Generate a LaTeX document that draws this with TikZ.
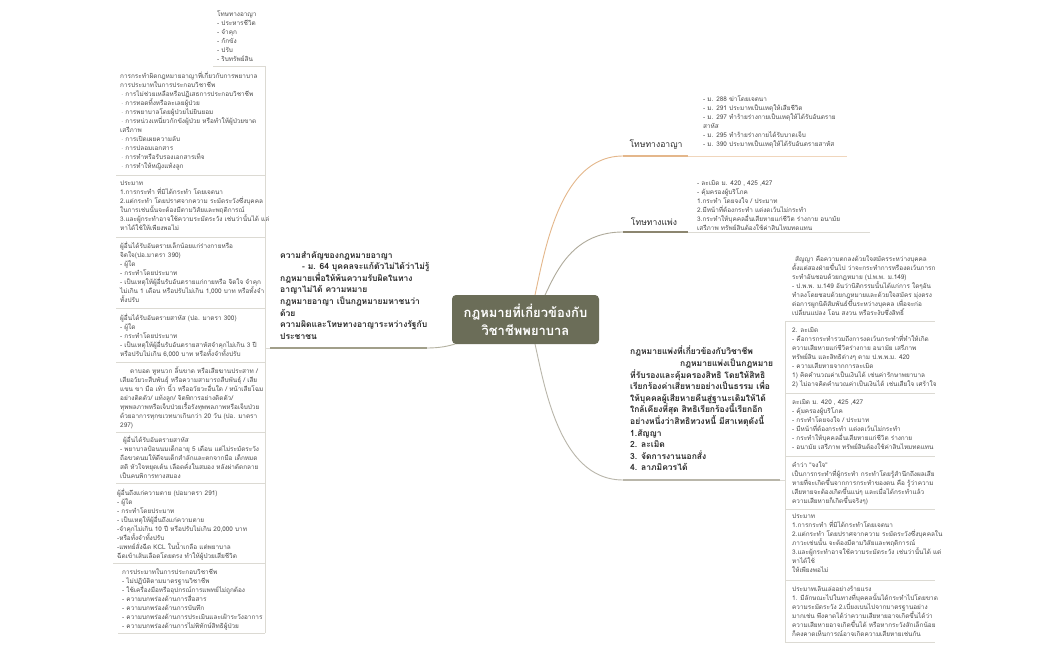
\documentclass[tikz,border=0pt]{standalone}
\usepackage{fontspec}
\usepackage{tikz}
\usetikzlibrary{backgrounds}
\newfontfamily\thaifont[Script=Thai]{Loma}

\definecolor{rootfill}{HTML}{6B6D58}
\definecolor{olivebr}{HTML}{A19F8A}
\definecolor{tanbr}{HTML}{E4B78B}
\definecolor{tanlight}{HTML}{F0D6BC}
\definecolor{civbr}{HTML}{8C8670}
\definecolor{greybr}{HTML}{B9B6AA}
\definecolor{linegrey}{HTML}{DCDAD3}
\definecolor{leaftext}{HTML}{4A4A4A}
\definecolor{topictext}{HTML}{2C2C2C}

\newcommand{\leaffnt}{\thaifont\fontsize{6.4}{9}\selectfont\lineskiplimit=-20pt}
\newcommand{\topicfnt}{\thaifont\bfseries\fontsize{8.5}{11.6}\selectfont\lineskiplimit=-20pt}
\newcommand{\brfnt}{\thaifont\fontsize{8.6}{11}\selectfont}
\newcommand{\rootfnt}{\thaifont\bfseries\fontsize{13}{18}\selectfont\lineskiplimit=-20pt}
\newcommand{\bul}{\hspace{1pt}$\cdot$\hspace{2pt}}

\begin{document}
\begin{tikzpicture}[x=1pt, y=-1pt,
  leaf/.style={font=\leaffnt, text=leaftext, inner sep=0pt, align=left, anchor=north west},
  topic/.style={font=\topicfnt, text=topictext, inner sep=0pt, align=left, anchor=north west},
  brlabel/.style={font=\brfnt, text=topictext, inner sep=0pt},
  rootbox/.style={fill=rootfill, rounded corners=4pt, minimum width=147pt, minimum height=49pt,
    font=\rootfnt, text=white, align=center, inner sep=0pt},
  underl/.style={line width=2.6pt},
  leafline/.style={line width=0.8pt, draw=linegrey},
  conn/.style={line width=0.9pt}]

\begin{scope}[on background layer]
\fill[white] (0,0) rectangle (1050,650);
\end{scope}
\useasboundingbox (0,0) rectangle (1050,650);

% root
\node[rootbox] (root) at (525.5,319.5) {กฎหมายที่เกี่ยวข้องกับ\\วิชาชีพพยาบาล};

% left main topic
\node[topic] (crim) at (280,251) {ความสำคัญของกฎหมายอาญา\\
\hspace{22pt}- ม. 64 บุคคลจะแก้ตัวไม่ได้ว่าไม่รู้\\
กฎหมายเพื่อให้พ้นความรับผิดในทาง\\
อาญาไม่ได้ ความหมาย\\
กฎหมายอาญา เป็นกฎหมายมหาชนว่า\\
ด้วย\\
ความผิดและโทษทางอาญาระหว่างรัฐกับ\\
ประชาชน};
\coordinate (crimL) at (270,348);
\coordinate (crimR) at (427,348);
\draw[underl, draw=olivebr] (crimL) -- (crimR);

% left leaves
\node[leaf] (l1) at (217,11) {โทษทางอาญา\\- ประหารชีวิต\\- จำคุก\\- กักขัง\\- ปรับ\\- ริบทรัพย์สิน};
\node[leaf] (l2) at (120,72) {การกระทำผิดกฎหมายอาญาที่เกี่ยวกับการพยาบาล\\
การประมาทในการประกอบวิชาชีพ\\
\bul การไม่ช่วยเหลือหรือปฏิเสธการประกอบวิชาชีพ\\
\bul การทอดทิ้งหรือละเลยผู้ป่วย\\
\bul การพยาบาลโดยผู้ป่วยไม่ยินยอม\\
\bul การหน่วงเหนี่ยวกักขังผู้ป่วย หรือทำให้ผู้ป่วยขาด\\
เสรีภาพ\\
\bul การเปิดเผยความลับ\\
\bul การปลอมเอกสาร\\
\bul การทำหรือรับรองเอกสารเท็จ\\
\bul การทำให้หญิงแท้งลูก};
\node[leaf] (l3) at (120,181) {ประมาท\\
1.การกระทำ ที่มิได้กระทำ โดยเจตนา\\
2.แต่กระทำ โดยปราศจากความ ระมัดระวังซึ่งบุคคล\\
ในการเช่นนั้นจะต้องมีตามวิสัยและพฤติการณ์\\
3.และผู้กระทำอาจใช้ความระมัดระวัง เช่นว่านั้นได้ แต่\\
หาได้ใช้ให้เพียงพอไม่};
\node[leaf] (l4) at (120,242) {ผู้อื่นได้รับอันตรายเล็กน้อยแก่ร่างกายหรือ\\
จิตใจ(ปอ.มาตรา 390)\\
- ผู้ใด\\
- กระทำโดยประมาท\\
- เป็นเหตุให้ผู้อื่นรับอันตรายแก่กายหรือ จิตใจ จำคุก\\
ไม่เกิน 1 เดือน หรือปรับไม่เกิน 1,000 บาท หรือทั้งจำ\\
ทั้งปรับ};
\node[leaf] (l5) at (120,314) {ผู้อื่นได้รับอันตรายสาหัส (ปอ. มาตรา 300)\\
- ผู้ใด\\
- กระทำโดยประมาท\\
- เป็นเหตุให้ผู้อื่นรับอันตรายสาหัสจำคุกไม่เกิน 3 ปี\\
หรือปรับไม่เกิน 6,000 บาท หรือทั้งจำทั้งปรับ};
\node[leaf] (l6) at (120,367) {\hspace{10pt}ตาบอด หูหนวก ลิ้นขาด หรือเสียฆานประสาท /\\
เสียอวัยวะสืบพันธุ์ หรือความสามารถสืบพันธุ์ / เสีย\\
แขน ขา มือ เท้า นิ้ว หรืออวัยวะอื่นใด / หน้าเสียโฉม\\
อย่างติดตัว/ แท้งลูก/ จิตพิการอย่างติดตัว/\\
ทุพพลภาพหรือเจ็บป่วยเรื้อรังทุพพลภาพหรือเจ็บป่วย\\
ด้วยอาการทุกขเวทนาเกินกว่า 20 วัน (ปอ. มาตรา\\
297)};
\node[leaf] (l7) at (120,436) {\hspace{3pt}ผู้อื่นได้รับอันตรายสาหัส\\
- พยาบาลป้อนนมเด็กอายุ 5 เดือน แต่ไม่ระมัดระวัง\\
ถือขวดนมให้ดีจนเด็กสำลักและตกจากมือ เด็กหมด\\
สติ หัวใจหยุดเต้น เลือดคั่งในสมอง หลังผ่าตัดกลาย\\
เป็นคนพิการทางสมอง};
\node[leaf] (l8) at (117,489) {ผู้อื่นถึงแก่ความตาย (ปอมาตรา 291)\\
- ผู้ใด\\
- กระทำโดยประมาท\\
- เป็นเหตุให้ผู้อื่นถึงแก่ความตาย\\
-จำคุกไม่เกิน 10 ปี หรือปรับไม่เกิน 20,000 บาท\\
-หรือทั้งจำทั้งปรับ\\
-แพทย์สั่งฉีด KCL ในน้ำเกลือ แต่พยาบาล\\
ฉีดเข้าเส้นเลือดโดยตรง ทำให้ผู้ป่วยเสียชีวิต};
\node[leaf] (l9) at (122,569) {การประมาทในการประกอบวิชาชีพ\\
- ไม่ปฏิบัติตามมาตรฐานวิชาชีพ\\
- ใช้เครื่องมือหรืออุปกรณ์การแพทย์ไม่ถูกต้อง\\
- ความบกพร่องด้านการสื่อสาร\\
- ความบกพร่องด้านการบันทึก\\
- ความบกพร่องด้านการประเมินและเฝ้าระวังอาการ\\
- ความบกพร่องด้านการไม่พิทักษ์สิทธิผู้ป่วย};

\coordinate (lsTop) at (265,66);
\coordinate (lsBot) at (265,633);
\draw[leafline] (lsTop) -- (lsBot);
\foreach \n/\u in {l1/66, l2/175, l3/237, l4/308, l5/362, l6/432, l7/483, l8/563, l9/633}
  \draw[leafline] ([xshift=-4pt]\n.west |- 0,\u) -- (lsTop |- 0,\u);
\draw[leafline] (lsTop |- crimL) -- (crimL);

% criminal penalties
\node[brlabel] (pen) at (656,145) {โทษทางอาญา};
\coordinate (penL) at (623,156);
\coordinate (penR) at (688,156);
\draw[underl, draw=tanbr] (penL) -- (penR);
\node[leaf] (penleaf) at (703,96) {- ม. 288 ฆ่าโดยเจตนา\\
- ม. 291 ประมาทเป็นเหตุให้เสียชีวิต\\
- ม. 297 ทำร้ายร่างกายเป็นเหตุให้ได้รับอันตราย\\
สาหัส\\
- ม. 295 ทำร้ายร่างกายได้รับบาดเจ็บ\\
- ม. 390 ประมาทเป็นเหตุให้ได้รับอันตรายสาหัส};
\coordinate (penleafR) at (847,156);
\draw[leafline, draw=tanlight] (penR) -- (penleafR);

% civil penalties
\node[brlabel] (civ) at (654,222) {โทษทางแพ่ง};
\coordinate (civL) at (623,232);
\coordinate (civR) at (688,232);
\draw[underl, draw=civbr] (civL) -- (civR);
\node[leaf] (civleaf) at (697,180) {- ละเมิด ม. 420 , 425 ,427\\
- คุ้มครองผู้บริโภค\\
1.กระทำ โดยจงใจ / ประมาท\\
2.มีหน้าที่ต้องกระทำ แต่งดเว้นไม่กระทำ\\
3.กระทำให้บุคคลอื่นเสียหายแก่ชีวิต ร่างกาย อนามัย\\
เสรีภาพ ทรัพย์สินต้องใช้ค่าสินไหมทดแทน};
\coordinate (civleafR) at (870,232);
\draw[leafline] (civR) -- (civleafR);

% civil law topic
\node[topic] (law) at (630,346) {กฎหมายแพ่งที่เกี่ยวข้องกับวิชาชีพ\\
\hspace{50pt}กฎหมายแพ่งเป็นกฎหมาย\\
ที่รับรองและคุ้มครองสิทธิ โดยให้สิทธิ\\
เรียกร้องค่าเสียหายอย่างเป็นธรรม เพื่อ\\
ให้บุคคลผู้เสียหายคืนสู่ฐานะเดิมให้ได้\\
ใกล้เคียงที่สุด สิทธิเรียกร้องนี้เรียกอีก\\
อย่างหนึ่งว่าสิทธิทวงหนี้ มีสาเหตุดังนี้\\
1.สัญญา\\
2. ละเมิด\\
3. จัดการงานนอกสั่ง\\
4. ลาภมิควรได้};
\coordinate (lawL) at (623,480);
\coordinate (lawR) at (780,480);
\draw[underl, draw=greybr] (lawL) -- (lawR);

% right leaves
\node[leaf] (r1) at (792,256) {\hspace{3pt}สัญญา คือความตกลงด้วยใจสมัครระหว่างบุคคล\\
ตั้งแต่สองฝ่ายขึ้นไป ว่าจะกระทำการหรืองดเว้นการก\\
ระทำอันชอบด้วยกฎหมาย (ป.พ.พ. ม.149)\\
- ป.พ.พ. ม.149 อันว่านิติกรรมนั้นได้แก่การ ใดๆอัน\\
ทำลงโดยชอบด้วยกฎหมายและด้วยใจสมัคร มุ่งตรง\\
ต่อการผูกนิติสัมพันธ์ขึ้นระหว่างบุคคล เพื่อจะก่อ\\
เปลี่ยนแปลง โอน สงวน หรือระงับซึ่งสิทธิ์};
\node[leaf] (r2) at (792,327) {2. ละเมิด\\
- คือการกระทำรวมถึงการงดเว้นกระทำที่ทำให้เกิด\\
ความเสียหายแก่ชีวิตร่างกาย อนามัย เสรีภาพ\\
ทรัพย์สิน และสิทธิต่างๆ ตาม ป.พ.พ.ม. 420\\
- ความเสียหายจากการละเมิด\\
1) คิดคำนวณค่าเป็นเงินได้ เช่นค่ารักษาพยาบาล\\
2) ไม่อาจคิดคำนวณค่าเป็นเงินได้ เช่นเสียใจ เศร้าใจ};
\node[leaf] (r3) at (792,399) {ละเมิด ม. 420 , 425 ,427\\
- คุ้มครองผู้บริโภค\\
- กระทำโดยจงใจ / ประมาท\\
- มีหน้าที่ต้องกระทำ แต่งดเว้นไม่กระทำ\\
- กระทำให้บุคคลอื่นเสียหายแก่ชีวิต ร่างกาย\\
- อนามัย เสรีภาพ ทรัพย์สินต้องใช้ค่าสินไหมทดแทน};
\node[leaf] (r4) at (792,462) {คำว่า "จงใจ"\\
เป็นการกระทำที่ผู้กระทำ กระทำโดยรู้สำนึกถึงผลเสีย\\
หายที่จะเกิดขึ้นจากการกระทำของตน คือ รู้ว่าความ\\
เสียหายจะต้องเกิดขึ้นแน่ๆ และเมื่อได้กระทำแล้ว\\
ความเสียหายก็เกิดขึ้นจริงๆ)};
\node[leaf] (r5) at (792,514) {ประมาท\\
1.การกระทำ ที่มิได้กระทำโดยเจตนา\\
2.แต่กระทำ โดยปราศจากความ ระมัดระวังซึ่งบุคคลใน\\
ภาวะเช่นนั้น จะต้องมีตามวิสัยและพฤติการณ์\\
3.และผู้กระทำอาจใช้ความระมัดระวัง เช่นว่านั้นได้ แต่\\
หาได้ใช้\\
ให้เพียงพอไม่};
\node[leaf] (r6) at (792,586) {ประมาทเลินเล่ออย่างร้ายแรง\\
1. มีลักษณะไปในทางที่บุคคลนั้นได้กระทำไปโดยขาด\\
ความระมัดระวัง 2.เบี่ยงเบนไปจากมาตรฐานอย่าง\\
มากเช่น พึงคาดได้ว่าความเสียหายอาจเกิดขึ้นได้ว่า\\
ความเสียหายอาจเกิดขึ้นได้ หรือหากระวังสักเล็กน้อย\\
ก็คงคาดเห็นการณ์อาจเกิดความเสียหายเช่นกัน};

\coordinate (rsTop) at (785,321);
\coordinate (rsBot) at (785,642);
\draw[leafline] (rsTop) -- (rsBot);
\foreach \n/\u in {r1/321, r2/393, r3/456, r4/509, r5/580, r6/642}
  \draw[leafline] (rsTop |- 0,\u) -- (935,\u);
\draw[leafline] (lawR) -- (rsTop |- lawR);

% connectors from the root
\begin{scope}[on background layer]
\draw[conn, draw=olivebr!80] (root.center) .. controls (476,320) and (476,348) .. (crimR);
\draw[conn, draw=tanbr] (root.center) .. controls (540,320) and (540,156) .. (penL);
\draw[conn, draw=civbr!70] (root.center) .. controls (548,320) and (548,232) .. (civL);
\draw[conn, draw=greybr] (root.center) .. controls (540,320) and (540,480) .. (lawL);
\end{scope}

\end{tikzpicture}
\end{document}
